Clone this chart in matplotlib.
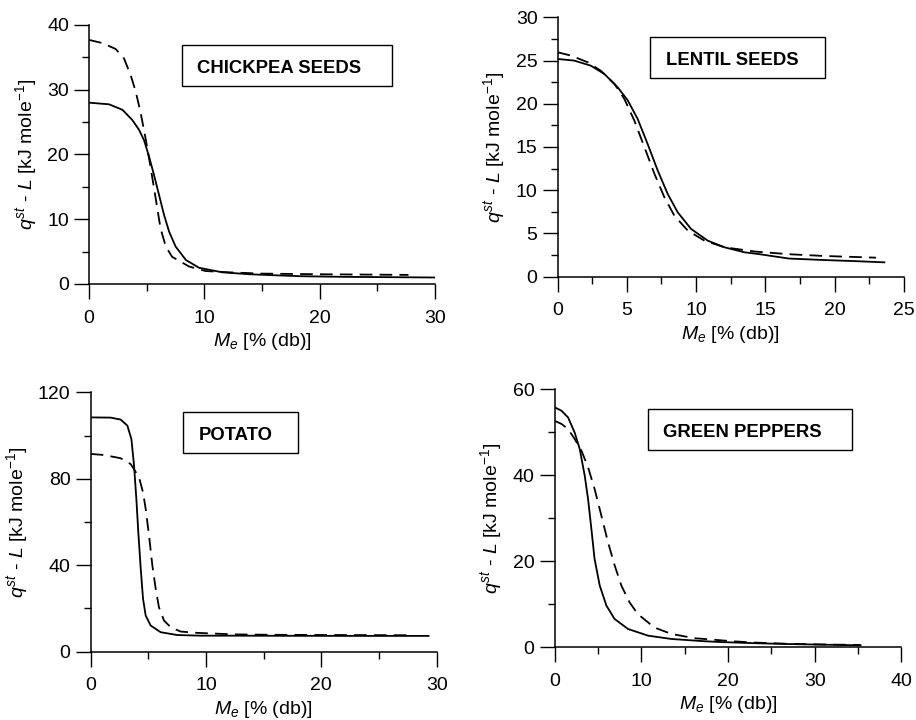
import numpy as np
import matplotlib
matplotlib.use("Agg")
import matplotlib.pyplot as plt
from matplotlib.patches import Rectangle
from matplotlib.ticker import MultipleLocator

plt.rcParams['font.family'] = ['Liberation Sans', 'DejaVu Sans']
plt.rcParams['mathtext.fontset'] = 'custom'
plt.rcParams['mathtext.rm'] = 'Liberation Sans'
plt.rcParams['mathtext.it'] = 'Liberation Sans:italic'
plt.rcParams['mathtext.bf'] = 'Liberation Sans:bold'

# --- data ---
# chickpea seeds
chick_x_solid = [0, 1.73, 2.9, 3.76, 4.34, 4.77, 5.2, 5.64, 6.07, 6.5, 6.94, 7.5, 8.4, 9.54, 11.56, 13.9, 16.0, 18.3, 22.0, 26.0, 30.0]
chick_y_solid = [28.0, 27.75, 26.9, 25.3, 23.8, 22.2, 19.7, 16.8, 13.75, 10.7, 8.1, 5.8, 3.7, 2.5, 1.8, 1.5, 1.35, 1.2, 1.1, 1.05, 1.0]
chick_x_dash = [0, 1.16, 2.3, 3.03, 3.6, 4.05, 4.48, 4.9, 5.35, 5.78, 6.2, 6.65, 7.2, 8.67, 10.1, 12.1, 15.0, 20.0, 24.0, 27.7]
chick_y_dash = [37.7, 37.2, 36.3, 34.85, 32.3, 29.7, 26.4, 22.5, 17.9, 13.2, 8.6, 5.8, 4.2, 2.7, 2.0, 1.8, 1.6, 1.5, 1.45, 1.4]

# lentil seeds
lent_x_solid = [0, 1.2, 2.4, 3.37, 4.34, 5.06, 5.78, 6.5, 7.23, 7.95, 8.67, 9.64, 10.84, 12.05, 13.5, 14.46, 16.7, 19.2, 21.5, 23.6]
lent_y_solid = [25.18, 24.99, 24.4, 23.45, 21.9, 20.4, 18.24, 15.35, 12.27, 9.57, 7.45, 5.52, 4.17, 3.4, 2.82, 2.63, 2.1, 1.93, 1.8, 1.66]
lent_x_dash = [0, 0.96, 2.17, 3.13, 4.1, 4.82, 5.54, 6.27, 6.99, 7.71, 8.43, 9.4, 10.6, 12.05, 14.3, 16.7, 19.2, 23.0]
lent_y_dash = [25.95, 25.57, 24.8, 23.8, 22.3, 20.55, 18.05, 14.97, 11.9, 9.18, 7.06, 5.33, 4.17, 3.4, 2.9, 2.6, 2.4, 2.2]

# potato
pot_x_solid = [0, 1.73, 2.6, 3.18, 3.53, 3.76, 3.96, 4.13, 4.34, 4.54, 4.77, 5.2, 6.07, 7.5, 9.54, 12.0, 16.0, 22.0, 29.3]
pot_y_solid = [108.4, 108.3, 107.4, 104.6, 98.4, 86.1, 70.7, 55.2, 38.3, 24.4, 16.7, 12.1, 9.0, 7.7, 7.4, 7.4, 7.35, 7.3, 7.3]
pot_x_dash = [0, 1.16, 2.6, 3.47, 4.19, 4.54, 4.77, 5.06, 5.35, 5.64, 5.92, 6.36, 6.94, 7.8, 9.25, 12.4, 16.0, 22.0, 28.0]
pot_y_dash = [91.5, 91.0, 89.5, 86.8, 80.7, 73.7, 66.0, 53.7, 39.8, 29.0, 20.5, 14.4, 11.3, 9.3, 8.7, 8.0, 7.8, 7.7, 7.6]

# green peppers
pep_x_solid = [0, 0.77, 1.54, 2.3, 2.88, 3.46, 3.85, 4.23, 4.6, 5.2, 5.96, 6.9, 8.46, 10.77, 13.46, 17.3, 19.4, 23.0, 27.0, 31.0, 35.3]
pep_y_solid = [55.74, 54.97, 53.4, 49.9, 46.1, 39.9, 34.4, 27.5, 20.5, 14.3, 9.7, 6.6, 4.25, 2.7, 1.93, 1.4, 1.2, 0.95, 0.75, 0.6, 0.46]
pep_x_dash = [0, 0.77, 1.54, 2.3, 3.08, 3.85, 4.6, 5.38, 6.15, 6.92, 7.7, 8.65, 9.6, 11.5, 13.46, 16.15, 18.1, 20.5, 23.0, 27.0, 31.0, 35.3]
pep_y_dash = [52.6, 51.9, 50.7, 48.4, 45.7, 41.8, 36.8, 30.6, 24.4, 19.0, 14.3, 10.4, 7.7, 4.6, 3.1, 2.1, 1.8, 1.4, 1.1, 0.8, 0.65, 0.54]

panels = [
    # title, xs, ys, xd, yd, xmax, xmajor, xminor, ymax, ymajor, yminor, box width, axes rect
    ("CHICKPEA SEEDS", chick_x_solid, chick_y_solid, chick_x_dash, chick_y_dash,
     30, 10, 5, 40, 10, 5, 0.609, [0.0972, 0.6056, 0.3777, 0.3597]),
    ("LENTIL SEEDS", lent_x_solid, lent_y_solid, lent_x_dash, lent_y_dash,
     25, 5, 2.5, 30, 5, 2.5, 0.505, [0.6088, 0.6157, 0.3778, 0.3603]),
    ("POTATO", pot_x_solid, pot_y_solid, pot_x_dash, pot_y_dash,
     30, 10, 5, 120, 40, 20, 0.332, [0.0990, 0.0949, 0.3777, 0.3602]),
    ("GREEN PEPPERS", pep_x_solid, pep_y_solid, pep_x_dash, pep_y_dash,
     40, 10, 5, 60, 20, 10, 0.589, [0.6056, 0.1010, 0.3783, 0.3587]),
]

fig = plt.figure(figsize=(9.16, 7.2), dpi=100)

for title, xs, ys, xd, yd, xmax, xmaj, xmin, ymax, ymaj, ymin, bw, rect in panels:
    ax = fig.add_axes(rect)
    ax.plot(xs, ys, color='black', lw=1.3, solid_joinstyle='round')
    ax.plot(xd, yd, color='black', lw=1.3, linestyle=(0, (7, 4)))
    ax.set_xlim(0, xmax)
    ax.set_ylim(0, ymax)
    ax.xaxis.set_major_locator(MultipleLocator(xmaj))
    ax.xaxis.set_minor_locator(MultipleLocator(xmin))
    ax.yaxis.set_major_locator(MultipleLocator(ymaj))
    ax.yaxis.set_minor_locator(MultipleLocator(ymin))
    for s in ['top', 'right']:
        ax.spines[s].set_visible(False)
    for s in ['left', 'bottom']:
        ax.spines[s].set_linewidth(1.1)
    ax.tick_params(which='major', direction='out', length=10.5, width=1.0, labelsize=14)
    ax.tick_params(which='minor', direction='out', length=5.2, width=1.0)
    ax.tick_params(axis='y', which='major', pad=4)
    ax.tick_params(axis='x', which='major', pad=8)
    ax.set_xlabel(r"$M_e$ [% (db)]", fontsize=14, labelpad=3)
    ax.set_ylabel(r"$q^{st}$ - $L$ [kJ mole$^{\mathregular{-1}}$]", fontsize=14, labelpad=6)
    ax.add_patch(Rectangle((0.268, 0.765), bw, 0.158, transform=ax.transAxes,
                           facecolor='white', edgecolor='black', lw=1.0, clip_on=False))
    ax.text(0.313, 0.832, title, transform=ax.transAxes, fontsize=13.3,
            fontweight='bold', ha='left', va='center')

fig.savefig("out.png", dpi=100)
